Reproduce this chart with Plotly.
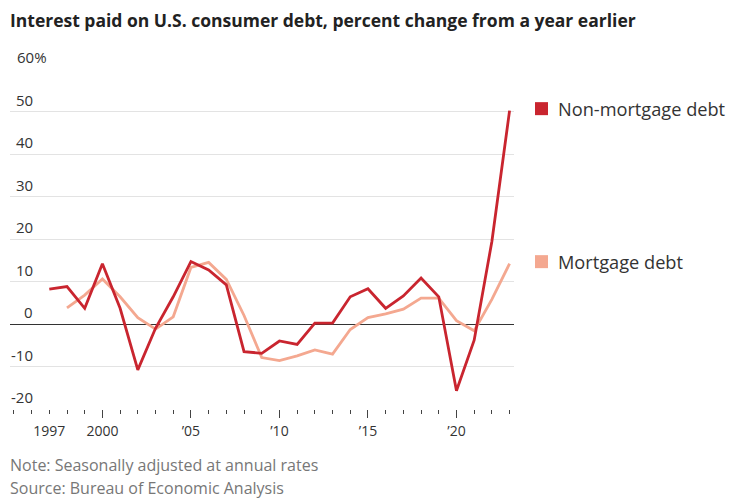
import plotly.graph_objects as go

# Annual percent change in interest paid on U.S. consumer debt
years = list(range(1997, 2024))

non_mortgage = [8.2, 8.8, 3.7, 14.2, 3.7, -10.8, -1.0, 6.4, 14.7, 12.7, 9.2,
                -6.5, -6.9, -4.0, -4.8, 0.2, 0.2, 6.4, 8.3, 3.7, 6.6, 10.8,
                6.4, -15.7, -3.8, 19.4, 50.2]

mortgage_years = list(range(1998, 2024))
mortgage = [3.8, 6.8, 10.6, 6.4, 1.5, -1.2, 1.7, 13.3, 14.5, 10.5, 2.0,
            -7.9, -8.6, -7.5, -6.1, -7.1, -1.3, 1.5, 2.4, 3.5, 6.1, 6.1,
            0.8, -1.6, 5.8, 14.2]

x_tickvals = [1997, 2000, 2005, 2010, 2015, 2020]
x_ticktext = ["1997", "2000", "\u201905", "\u201910", "\u201915", "\u201920"]
x_major = [2000, 2005, 2010, 2015, 2020]
y_ticks = [-20, -10, 0, 10, 20, 30, 40, 50, 60]
y_ticktext = ["-20", "-10", "0", "10", "20", "30", "40", "50", "60%"]

series_names = ["Non-mortgage debt", "Mortgage debt"]
colors = ["#c9252f", "#f4a890"]

FONT = "Open Sans, Lato, sans-serif"
TEXT = "#333333"

fig = go.Figure()
fig.add_trace(go.Scatter(x=mortgage_years, y=mortgage, mode="lines",
                         line=dict(color=colors[1], width=2.8),
                         name=series_names[1], showlegend=False))
fig.add_trace(go.Scatter(x=years, y=non_mortgage, mode="lines",
                         line=dict(color=colors[0], width=2.8),
                         name=series_names[0], showlegend=False))

# invisible trace to host the long major ticks on an overlaid axis
fig.add_trace(go.Scatter(x=[x_major[0]], y=[0], xaxis="x2", mode="markers",
                         marker=dict(opacity=0), showlegend=False,
                         hoverinfo="skip"))

X_RANGE = [1994.78, 2023.25]

fig.update_layout(
    width=733, height=500,
    margin=dict(l=10, r=219, t=69, b=91),
    paper_bgcolor="white", plot_bgcolor="white",
    font=dict(family=FONT, color=TEXT, size=15),
    xaxis=dict(
        range=X_RANGE, tickmode="array", tickvals=x_tickvals,
        ticktext=x_ticktext, ticks="outside", ticklen=4, tickwidth=1.3,
        tickcolor="#444444", showgrid=False, zeroline=False, showline=False,
        ticklabelstandoff=5,
        tickfont=dict(size=14, color=TEXT, family=FONT),
        minor=dict(dtick=1, tick0=1997, ticks="outside", ticklen=4,
                   tickwidth=1.3, tickcolor="#444444", showgrid=False),
    ),
    xaxis2=dict(
        range=X_RANGE, overlaying="x", anchor="y", side="bottom",
        tickmode="array", tickvals=x_major, ticks="outside", ticklen=8,
        tickwidth=1.3, tickcolor="#444444", showticklabels=False,
        showgrid=False, zeroline=False, showline=False,
    ),
    yaxis=dict(
        range=[-20, 60], tickmode="array", tickvals=y_ticks,
        showticklabels=False, showgrid=True, gridcolor="#e3e3e3",
        gridwidth=1, zeroline=True, zerolinecolor="#333333",
        zerolinewidth=1.3, showline=False, ticks="",
    ),
    title=dict(
        text="<b>Interest paid on U.S. consumer debt, percent change from a year earlier</b>",
        x=10 / 733, xanchor="left", xref="container",
        y=1 - 21 / 500, yanchor="middle", yref="container",
        font=dict(family=FONT, size=17.5, color="#222222"),
    ),
)

# y tick labels sit just above their gridlines, numbers right-aligned
annotations = []
for v, t in zip(y_ticks, y_ticktext):
    top = t.endswith("%")
    annotations.append(dict(
        x=0, xref="paper", y=v, yref="y", text=t, showarrow=False,
        xanchor="left" if top else "right", yanchor="bottom",
        xshift=5 if top else 25, yshift=0,
        font=dict(size=15, color=TEXT, family=FONT),
    ))

# end-of-line labels with colour keys
shapes = []
for name, color, vals in zip(series_names, colors, [non_mortgage, mortgage]):
    end = vals[-1]
    annotations.append(dict(
        x=1, xref="paper", y=end, yref="y", text=name, showarrow=False,
        xanchor="left", yanchor="middle", xshift=42, yshift=2,
        font=dict(size=18.2, color=TEXT, family=FONT),
    ))
    shapes.append(dict(
        type="rect", xref="paper", yref="y", xsizemode="pixel",
        ysizemode="pixel", xanchor=1, yanchor=end, x0=21, x1=34,
        y0=-4.5, y1=8.5, fillcolor=color, line=dict(width=0),
    ))

# footer notes
annotations.append(dict(
    x=0, xref="paper", y=-(465 - 409) / 340, yref="paper",
    text="Note: Seasonally adjusted at annual rates", showarrow=False,
    xanchor="left", yanchor="middle", xshift=-2,
    font=dict(size=16, color="#777777", family=FONT),
))
annotations.append(dict(
    x=0, xref="paper", y=-(488 - 409) / 340, yref="paper",
    text="Source: Bureau of Economic Analysis", showarrow=False,
    xanchor="left", yanchor="middle", xshift=-2,
    font=dict(size=16, color="#777777", family=FONT),
))

fig.update_layout(annotations=annotations, shapes=shapes)

fig.write_html("out.html")
